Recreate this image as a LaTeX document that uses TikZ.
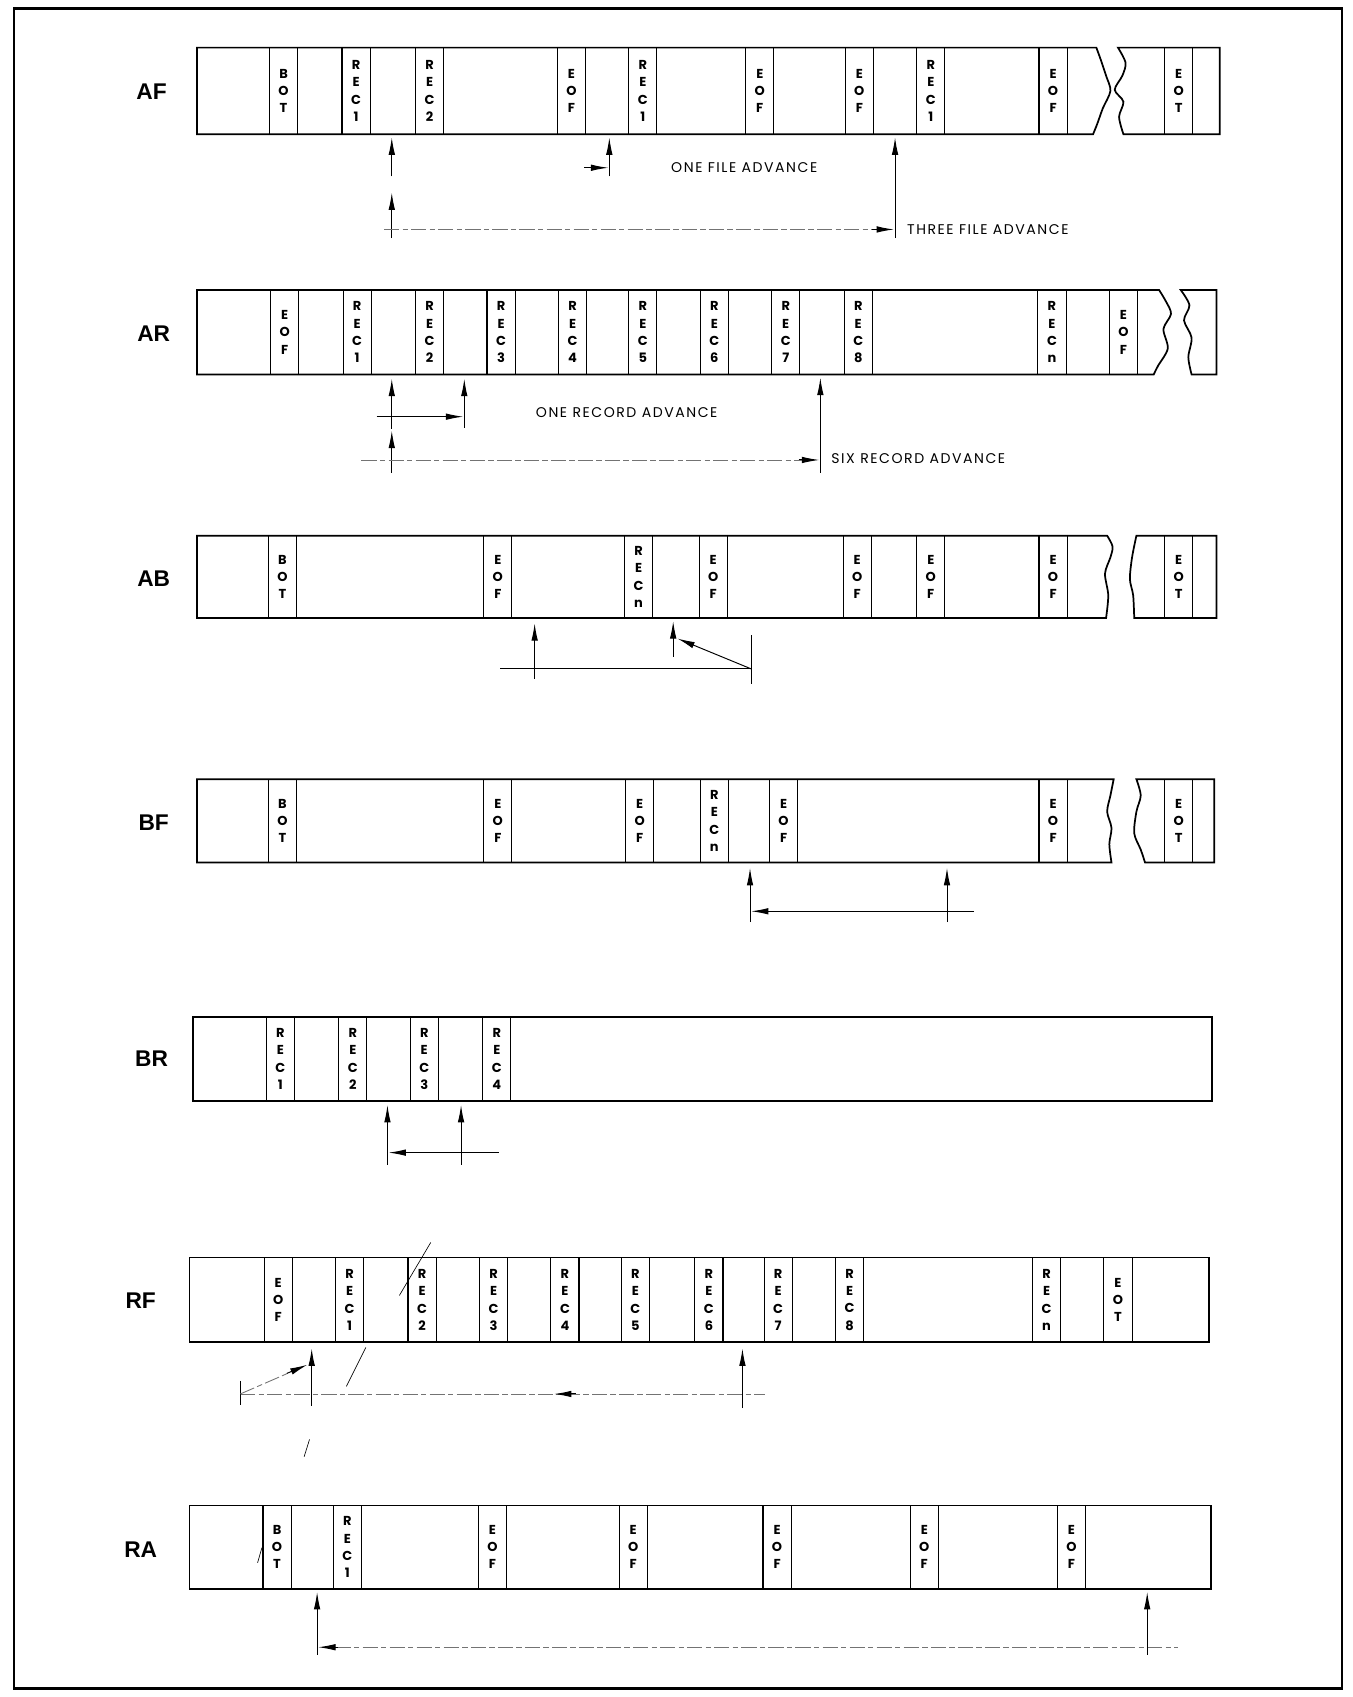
\documentclass[tikz,border=0pt]{standalone}
\usepackage{fontspec}
\setmainfont{Poppins}
\newfontfamily\notefont[LetterSpace=11]{Poppins}
\newfontfamily\labelfont{Liberation Sans}
\usetikzlibrary{arrows.meta}

\begin{document}
\begin{tikzpicture}[x=1pt,y=-1pt,
  frame/.style={line width=2.6pt},
  tape/.style={line width=1.6pt},
  cell/.style={draw, line width=1pt, minimum width=26pt, inner sep=0pt, align=center,
    font=\bfseries\fontsize{12}{16}\selectfont},
  row/.style={font=\labelfont\bfseries\fontsize{21}{21}\selectfont},
  note/.style={anchor=west, inner sep=0pt, font=\notefont\fontsize{13}{14}\selectfont},
  ptr/.style={-{Latex[length=16pt,width=6pt]}, line width=0.9pt},
  faint/.style={line width=0.8pt, black!55, dash pattern=on 14pt off 3pt on 5pt off 3pt},
  stray/.style={line width=0.6pt}]

\useasboundingbox (0,0) rectangle (1250,1568);
\draw[frame] (13,8) rectangle (1240,1560);

% AF
\node[row] (rAF) at (140,85) {AF};
\draw[tape] (182,124) -- (182,44) -- plot[smooth] coordinates {(1013,44) (1017,55) (1022,70) (1026,84) (1019,100) (1014,114) (1010,124)} -- cycle;
\draw[tape] plot[smooth] coordinates {(1038,124) (1034,108) (1038,94) (1030,83) (1037,70) (1040,58) (1033,44)} -- (1127,44) -- (1127,124) -- cycle;
\foreach \x/\lbl [count=\i] in {262/{B\\O\\T}, 329/{R\\E\\C\\1}, 397/{R\\E\\C\\2}, 528/{E\\O\\F}, 594/{R\\E\\C\\1},
    702/{E\\O\\F}, 794/{E\\O\\F}, 860/{R\\E\\C\\1}, 973/{E\\O\\F}, 1089/{E\\O\\T}}
  \node[cell, minimum height=80pt] (af\i) at (\x,84) {\lbl};
\draw[ptr] (362,163) -- (362,127);
\draw[ptr] (563,163) -- (563,127);
\draw[ptr] (540,155) -- (562,155);
\node[note] (tOneFile) at (620,155) {ONE FILE ADVANCE};
\draw[ptr] (362,220) -- (362,178);
\draw[faint] (355,212) -- (812,212);
\draw[ptr] (806,212) -- (826,212);
\draw[ptr] (827,220) -- (827,127);
\node[note] (tThreeFile) at (838,212) {THREE FILE ADVANCE};

% AR
\node[row] (rAR) at (142,308) {AR};
\draw[tape] (182,346) -- (182,268) -- plot[smooth] coordinates {(1071,268) (1077,278) (1082,290) (1075,304) (1079,322) (1070,338) (1066,346)} -- cycle;
\draw[tape] plot[smooth] coordinates {(1101,346) (1098,330) (1101,312) (1094,296) (1099,282) (1091,268)} -- (1124,268) -- (1124,346) -- cycle;
\foreach \x/\lbl [count=\i] in {263/{E\\O\\F}, 330/{R\\E\\C\\1}, 397/{R\\E\\C\\2}, 463/{R\\E\\C\\3}, 529/{R\\E\\C\\4},
    594/{R\\E\\C\\5}, 660/{R\\E\\C\\6}, 726/{R\\E\\C\\7}, 793/{R\\E\\C\\8}, 972/{R\\E\\C\\n}, 1038/{E\\O\\F}}
  \node[cell, minimum height=78pt] (ar\i) at (\x,307) {\lbl};
\draw[ptr] (362,396) -- (362,350);
\draw[ptr] (348,385) -- (428,385);
\draw[ptr] (429,395) -- (429,350);
\node[note] (tOneRec) at (495,381) {ONE RECORD ADVANCE};
\draw[ptr] (362,437) -- (362,398);
\draw[faint] (334,425) -- (742,425);
\draw[ptr] (738,425) -- (757,425);
\draw[ptr] (758,437) -- (758,349);
\node[note] (tSixRec) at (768,424) {SIX RECORD ADVANCE};

% AB
\node[row] (rAB) at (142,535) {AB};
\draw[tape] (182,571) -- (182,495) -- plot[smooth] coordinates {(1023,495) (1028,505) (1026,515) (1021,530) (1024,550) (1022,571)} -- cycle;
\draw[tape] plot[smooth] coordinates {(1048,571) (1047,550) (1044,535) (1046,515) (1050,495)} -- (1124,495) -- (1124,571) -- cycle;
\foreach \x/\lbl [count=\i] in {261/{B\\O\\T}, 460/{E\\O\\F}, 590/{R\\E\\C\\n}, 659/{E\\O\\F}, 792/{E\\O\\F},
    860/{E\\O\\F}, 973/{E\\O\\F}, 1089/{E\\O\\T}}
  \node[cell, minimum height=76pt] (ab\i) at (\x,533) {\lbl};
\draw[ptr] (494,627) -- (494,576);
\draw[line width=0.9pt] (462,618) -- (694,618);
\draw[line width=0.9pt] (694,587) -- (694,632);
\draw[ptr] (622,607) -- (622,574);
\draw[ptr] (694,618) -- (626,590);

% BF
\node[row] (rBF) at (142,760) {BF};
\draw[tape] (182,797) -- (182,720) -- plot[smooth] coordinates {(1029,720) (1026,735) (1023,750) (1027,765) (1025,780) (1027,797)} -- cycle;
\draw[tape] plot[smooth] coordinates {(1058,797) (1054,785) (1048,770) (1050,750) (1054,735) (1050,720)} -- (1122,720) -- (1122,797) -- cycle;
\foreach \x/\lbl [count=\i] in {261/{B\\O\\T}, 460/{E\\O\\F}, 591/{E\\O\\F}, 660/{R\\E\\C\\n}, 724/{E\\O\\F},
    973/{E\\O\\F}, 1089/{E\\O\\T}}
  \node[cell, minimum height=77pt] (bf\i) at (\x,758.5) {\lbl};
\draw[ptr] (693,852) -- (693,802);
\draw[ptr] (900,842) -- (694,842);
\draw[ptr] (875,852) -- (875,802);

% BR
\node[row] (rBR) at (140,978) {BR};
\draw[tape] (178,940) rectangle (1120,1017);
\foreach \x/\lbl [count=\i] in {259/{R\\E\\C\\1}, 326/{R\\E\\C\\2}, 392/{R\\E\\C\\3}, 459/{R\\E\\C\\4}}
  \node[cell, minimum height=77pt] (br\i) at (\x,978.5) {\lbl};
\draw[ptr] (358,1076) -- (358,1021);
\draw[ptr] (461,1065) -- (359,1065);
\draw[ptr] (426,1076) -- (426,1021);

% RF
\node[row] (rRF) at (130,1202) {RF};
\draw[tape] (175,1162) rectangle (1117,1240);
\foreach \x/\lbl [count=\i] in {257/{E\\O\\F}, 323/{R\\E\\C\\1}, 390/{R\\E\\C\\2}, 456/{R\\E\\C\\3}, 522/{R\\E\\C\\4},
    587/{R\\E\\C\\5}, 655/{R\\E\\C\\6}, 719/{R\\E\\C\\7}, 785/{R\\E\\C\\8}, 967/{R\\E\\C\\n}, 1033/{E\\O\\T}}
  \node[cell, minimum height=78pt] (rf\i) at (\x,1201) {\lbl};
\draw[ptr] (288,1299) -- (288,1246);
\draw[faint] (222,1288) -- (707,1288);
\draw[ptr] (532,1288) -- (512,1288);
\draw[line width=0.9pt] (222,1276) -- (222,1298);
\draw[faint] (222,1288) -- (268,1268);
\draw[ptr] (265,1269) -- (284,1261);
\draw[ptr] (686,1301) -- (686,1246);
\draw[stray] (398,1148) -- (369,1197);
\draw[stray] (338,1245) -- (320,1281);
\draw[stray] (286,1330) -- (281,1346);

% RA
\node[row] (rRA) at (130,1432) {RA};
\draw[tape] (175,1391) rectangle (1119,1468);
\foreach \x/\lbl [count=\i] in {256/{B\\O\\T}, 321/{R\\E\\C\\1}, 455/{E\\O\\F}, 585/{E\\O\\F}, 718/{E\\O\\F},
    854/{E\\O\\F}, 990/{E\\O\\F}}
  \node[cell, minimum height=77pt] (ra\i) at (\x,1429.5) {\lbl};
\draw[ptr] (293,1529) -- (293,1471);
\draw[faint] (310,1522) -- (1088,1522);
\draw[ptr] (312,1522) -- (294,1522);
\draw[ptr] (1060,1529) -- (1060,1471);
\draw[stray] (238,1444) -- (242,1430);
\end{tikzpicture}
\end{document}
